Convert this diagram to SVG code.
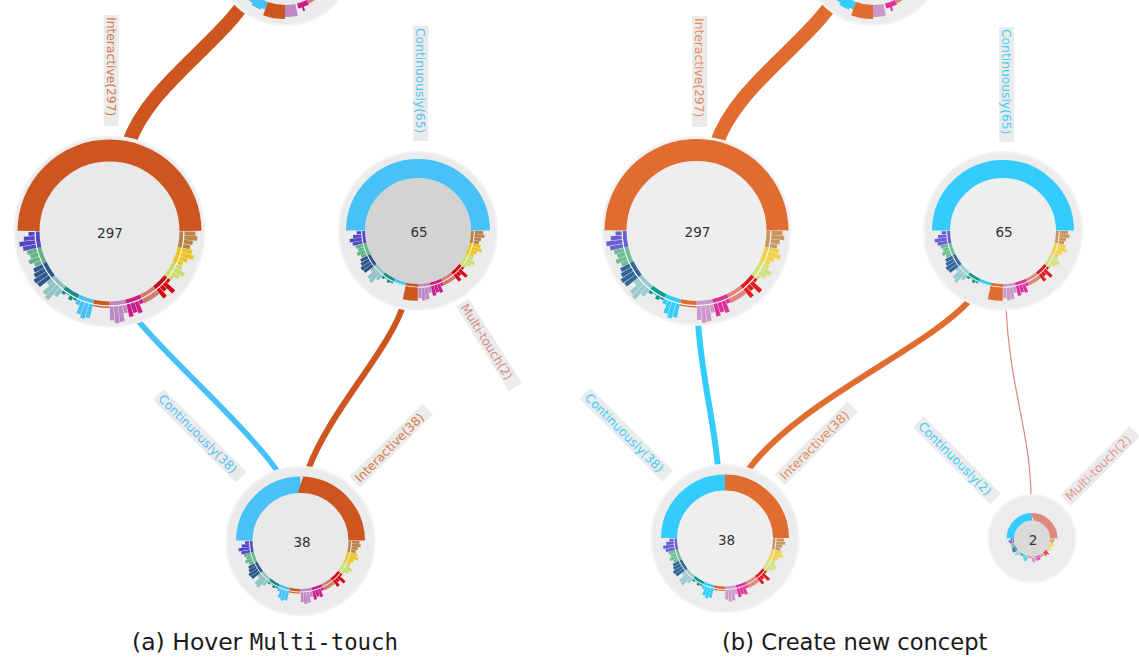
<svg xmlns="http://www.w3.org/2000/svg" xmlns:xlink="http://www.w3.org/1999/xlink" width="1139" height="659" viewBox="0 0 1139 659">
<style>
text{font-family:"DejaVu Sans",Verdana,sans-serif}
.lbl{font-size:12.3px}
.num{font-size:13.5px;fill:#333;text-anchor:middle;dominant-baseline:central}
.lbg{fill:#ebebeb}
.cap{fill:#1a1a1a}
.mono{font-family:"DejaVu Sans Mono","Liberation Mono",monospace}
.bgA{fill:#ebebeb;stroke:#f2f2f2;stroke-width:2}
.bgB{fill:#ececec;stroke:#f3f3f3;stroke-width:2}
.arc{fill:none}
.tr circle{fill:none}
.rg circle{fill:none;stroke-dasharray:2.9 400}
.rg .seg{stroke-dasharray:12.857 400}
.rg .wl{stroke:#fff;stroke-dasharray:180 400;opacity:.8}
.k0{stroke:var(--k0)}.k1{stroke:var(--k1)}.k2{stroke:var(--k2)}.k3{stroke:var(--k3)}.k4{stroke:var(--k4)}.k5{stroke:var(--k5)}.k6{stroke:var(--k6)}
.k7{stroke:var(--k7)}.k8{stroke:var(--k8)}.k9{stroke:var(--k9)}.k10{stroke:var(--k10)}.k11{stroke:var(--k11)}.k12{stroke:var(--k12)}.k13{stroke:var(--k13)}
.pa{--k0:#b9834a;--k1:#ecc61e;--k2:#cbdc6c;--k3:#d00712;--k4:#d27a6e;--k5:#c91d8a;--k6:#bf88c4;--k7:#cc5520;--k8:#47c1f8;--k9:#178c82;--k10:#8ec3c3;--k11:#2d568a;--k12:#64b487;--k13:#5548c6}
.pb{--k0:#c9955f;--k1:#f1d14a;--k2:#d3e07c;--k3:#e01b1f;--k4:#e0877d;--k5:#dd3399;--k6:#cc99cc;--k7:#e06c30;--k8:#33ccff;--k9:#0f998a;--k10:#99cccc;--k11:#336699;--k12:#6fbf95;--k13:#6a5fd2}
</style>
<defs>
<g id="ring" class="rg">
<circle class="seg k0" r="72" stroke-width="4" pathLength="360" stroke-dashoffset="0"/>
<circle class="seg k1" r="72" stroke-width="4" pathLength="360" stroke-dashoffset="-12.857"/>
<circle class="seg k2" r="72" stroke-width="4" pathLength="360" stroke-dashoffset="-25.714"/>
<circle class="seg k3" r="72" stroke-width="4" pathLength="360" stroke-dashoffset="-38.571"/>
<circle class="seg k4" r="72" stroke-width="4" pathLength="360" stroke-dashoffset="-51.429"/>
<circle class="seg k5" r="72" stroke-width="4" pathLength="360" stroke-dashoffset="-64.286"/>
<circle class="seg k6" r="72" stroke-width="4" pathLength="360" stroke-dashoffset="-77.143"/>
<circle class="seg k7" r="72" stroke-width="4" pathLength="360" stroke-dashoffset="-90"/>
<circle class="seg k8" r="72" stroke-width="4" pathLength="360" stroke-dashoffset="-102.857"/>
<circle class="seg k9" r="72" stroke-width="4" pathLength="360" stroke-dashoffset="-115.714"/>
<circle class="seg k10" r="72" stroke-width="4" pathLength="360" stroke-dashoffset="-128.571"/>
<circle class="seg k11" r="72" stroke-width="4" pathLength="360" stroke-dashoffset="-141.429"/>
<circle class="seg k12" r="72" stroke-width="4" pathLength="360" stroke-dashoffset="-154.286"/>
<circle class="seg k13" r="72" stroke-width="4" pathLength="360" stroke-dashoffset="-167.143"/>
<circle class="wl" r="74.5" stroke-width="1" pathLength="360"/>
<circle class="k0" r="80.5" stroke-width="11" pathLength="360" stroke-dashoffset="0"/>
<circle class="k0" r="81.5" stroke-width="13" pathLength="360" stroke-dashoffset="-3.214"/>
<circle class="k0" r="79.5" stroke-width="9" pathLength="360" stroke-dashoffset="-6.429"/>
<circle class="k0" r="78.5" stroke-width="7" pathLength="360" stroke-dashoffset="-9.643"/>
<circle class="k1" r="80" stroke-width="10" pathLength="360" stroke-dashoffset="-12.857"/>
<circle class="k1" r="81.5" stroke-width="13" pathLength="360" stroke-dashoffset="-16.071"/>
<circle class="k1" r="79" stroke-width="8" pathLength="360" stroke-dashoffset="-19.286"/>
<circle class="k1" r="77.5" stroke-width="5" pathLength="360" stroke-dashoffset="-22.5"/>
<circle class="k2" r="78" stroke-width="6" pathLength="360" stroke-dashoffset="-25.714"/>
<circle class="k2" r="80.5" stroke-width="11" pathLength="360" stroke-dashoffset="-28.929"/>
<circle class="k2" r="79" stroke-width="8" pathLength="360" stroke-dashoffset="-32.143"/>
<circle class="k2" r="77" stroke-width="4" pathLength="360" stroke-dashoffset="-35.357"/>
<circle class="k3" r="76.5" stroke-width="3" pathLength="360" stroke-dashoffset="-38.571"/>
<circle class="k3" r="81.5" stroke-width="13" pathLength="360" stroke-dashoffset="-41.786"/>
<circle class="k3" r="78" stroke-width="6" pathLength="360" stroke-dashoffset="-45"/>
<circle class="k3" r="80.5" stroke-width="11" pathLength="360" stroke-dashoffset="-48.214"/>
<circle class="seg k4" r="77.5" stroke-width="5" pathLength="360" stroke-dashoffset="-51.429"/>
<circle class="k5" r="77" stroke-width="4" pathLength="360" stroke-dashoffset="-64.286"/>
<circle class="k5" r="81" stroke-width="12" pathLength="360" stroke-dashoffset="-67.5"/>
<circle class="k5" r="80" stroke-width="10" pathLength="360" stroke-dashoffset="-70.714"/>
<circle class="k5" r="81.5" stroke-width="13" pathLength="360" stroke-dashoffset="-73.929"/>
<circle class="k6" r="79" stroke-width="8" pathLength="360" stroke-dashoffset="-77.143"/>
<circle class="k6" r="83" stroke-width="16" pathLength="360" stroke-dashoffset="-80.357"/>
<circle class="k6" r="83.5" stroke-width="17" pathLength="360" stroke-dashoffset="-83.571"/>
<circle class="k6" r="82" stroke-width="14" pathLength="360" stroke-dashoffset="-86.786"/>
<circle class="seg k7" r="75.75" stroke-width="1.5" pathLength="360" stroke-dashoffset="-90"/>
<circle class="k8" r="82" stroke-width="14" pathLength="360" stroke-dashoffset="-102.857"/>
<circle class="k8" r="83" stroke-width="16" pathLength="360" stroke-dashoffset="-106.071"/>
<circle class="k8" r="81.5" stroke-width="13" pathLength="360" stroke-dashoffset="-109.286"/>
<circle class="k8" r="77.5" stroke-width="5" pathLength="360" stroke-dashoffset="-112.5"/>
<circle class="k9" r="76" stroke-width="2" pathLength="360" stroke-dashoffset="-115.714"/>
<circle class="k9" r="77" stroke-width="4" pathLength="360" stroke-dashoffset="-118.929"/>
<circle class="k9" r="75.5" stroke-width="1" pathLength="360" stroke-dashoffset="-122.143"/>
<circle class="k9" r="76.5" stroke-width="3" pathLength="360" stroke-dashoffset="-125.357"/>
<circle class="k10" r="79.5" stroke-width="9" pathLength="360" stroke-dashoffset="-128.571"/>
<circle class="k10" r="83.5" stroke-width="17" pathLength="360" stroke-dashoffset="-131.786"/>
<circle class="k10" r="82.5" stroke-width="15" pathLength="360" stroke-dashoffset="-135"/>
<circle class="k10" r="78" stroke-width="6" pathLength="360" stroke-dashoffset="-138.214"/>
<circle class="k11" r="82" stroke-width="14" pathLength="360" stroke-dashoffset="-141.429"/>
<circle class="k11" r="82.5" stroke-width="15" pathLength="360" stroke-dashoffset="-144.643"/>
<circle class="k11" r="81" stroke-width="12" pathLength="360" stroke-dashoffset="-147.857"/>
<circle class="k11" r="80" stroke-width="10" pathLength="360" stroke-dashoffset="-151.071"/>
<circle class="k12" r="78.5" stroke-width="7" pathLength="360" stroke-dashoffset="-154.286"/>
<circle class="k12" r="80.5" stroke-width="11" pathLength="360" stroke-dashoffset="-157.5"/>
<circle class="k12" r="79" stroke-width="8" pathLength="360" stroke-dashoffset="-160.714"/>
<circle class="k12" r="80" stroke-width="10" pathLength="360" stroke-dashoffset="-163.929"/>
<circle class="k13" r="81.5" stroke-width="13" pathLength="360" stroke-dashoffset="-167.143"/>
<circle class="k13" r="83" stroke-width="16" pathLength="360" stroke-dashoffset="-170.357"/>
<circle class="k13" r="80.5" stroke-width="11" pathLength="360" stroke-dashoffset="-173.571"/>
<circle class="k13" r="78" stroke-width="6" pathLength="360" stroke-dashoffset="-176.786"/>
</g>
<g id="topring" class="tr">
<circle class="k9" r="52" stroke-width="4" pathLength="360" stroke-dasharray="8 400" stroke-dashoffset="-132"/>
<circle class="k8" r="54" stroke-width="8" pathLength="360" stroke-dasharray="22 400" stroke-dashoffset="-110"/>
<circle class="k8" r="55" stroke-width="10" pathLength="360" stroke-dasharray="10 400" stroke-dashoffset="-114"/>
<circle class="k7" r="57" stroke-width="14" pathLength="360" stroke-dasharray="20 400" stroke-dashoffset="-90"/>
<circle class="k6" r="56" stroke-width="12" pathLength="360" stroke-dasharray="12 400" stroke-dashoffset="-78"/>
<circle class="k5" r="52.5" stroke-width="5" pathLength="360" stroke-dasharray="12 400" stroke-dashoffset="-64"/>
<circle class="k5" r="55" stroke-width="8" pathLength="360" stroke-dasharray="2 400" stroke-dashoffset="-70"/>
<circle class="k4" r="52" stroke-width="4" pathLength="360" stroke-dasharray="12 400" stroke-dashoffset="-52"/>
</g>
</defs>

<g id="links" fill="none">
<path d="M 258 -20 C 230 40, 150 80, 128 145" stroke="#cc5520" stroke-width="14"/>
<path d="M 136 318 C 160 350, 250 430, 278 472" stroke="#47c1f8" stroke-width="5.5"/>
<path d="M 404 303 C 390 350, 330 410, 308 470" stroke="#cc5520" stroke-width="6"/>
<path d="M 846 -20 C 818 40, 738 80, 716 145" stroke="#e06c30" stroke-width="14"/>
<path d="M 698 322 C 702 380, 714 420, 718 468" stroke="#33ccff" stroke-width="6"/>
<path d="M 970 300 C 925 350, 800 400, 748 470" stroke="#e06c30" stroke-width="6"/>
<path d="M 1006 308 C 1010 390, 1030 430, 1031 496" stroke="#e0887c" stroke-width="1.2"/>
</g>

<g id="node-top-a" transform="translate(285 -45)">
<circle r="70" class="bgA"/>
<circle r="50" fill="#e9e9e9"/>
<use xlink:href="#topring" class="pa"/>
</g>
<g id="node-297-a" transform="translate(109.5 231.5)">
<circle r="95" class="bgA"/>
<circle r="70" fill="#e9e9e9"/>
<circle class="arc" r="81" stroke="#cc5520" stroke-width="22" pathLength="360" stroke-dasharray="179 400" stroke-dashoffset="-180.5"/>
<use xlink:href="#ring" class="pa"/>
<text class="num" x="0.5" y="1">297</text>
</g>
<g id="node-65-a" transform="translate(418 231)">
<circle r="79" class="bgA"/>
<circle r="53" fill="#d3d3d3"/>
<circle class="arc" r="62.5" stroke="#47c1f8" stroke-width="19" pathLength="360" stroke-dasharray="179 400" stroke-dashoffset="-180.5"/>
<use xlink:href="#ring" class="pa" transform="scale(0.757)"/>
<circle class="arc" r="63.5" stroke="#ebebeb" stroke-width="13.4" pathLength="360" stroke-dasharray="12.8 400" stroke-dashoffset="-102.9"/>
<circle class="arc" r="63.3" stroke="#cc5520" stroke-width="13" pathLength="360" stroke-dasharray="12.4 400" stroke-dashoffset="-90.2"/>
<text class="num" x="1" y="1">65</text>
</g>
<g id="node-38-a" transform="translate(300.5 541)">
<circle r="74" class="bgA"/>
<circle r="48" fill="#e9e9e9"/>
<circle class="arc" r="56.25" stroke="#47c1f8" stroke-width="16.5" pathLength="360" stroke-dasharray="89.5 400" stroke-dashoffset="-180.5"/>
<circle class="arc" r="56.25" stroke="#cc5520" stroke-width="16.5" pathLength="360" stroke-dasharray="89.5 400" stroke-dashoffset="-270"/>
<use xlink:href="#ring" class="pa" transform="scale(0.686)"/>
<text class="num" x="1.5" y="1">38</text>
</g>

<g id="node-top-b" transform="translate(873 -45)">
<circle r="70" class="bgB"/>
<circle r="50" fill="#eeeeee"/>
<use xlink:href="#topring" class="pb"/>
</g>
<g id="node-297-b" transform="translate(696.5 231)">
<circle r="94" class="bgB"/>
<circle r="70" fill="#eeeeee"/>
<circle class="arc" r="81" stroke="#e06c30" stroke-width="22" pathLength="360" stroke-dasharray="179 400" stroke-dashoffset="-180.5"/>
<use xlink:href="#ring" class="pb"/>
<text class="num" x="1" y="1">297</text>
</g>
<g id="node-65-b" transform="translate(1003 231)">
<circle r="79" class="bgB"/>
<circle r="53" fill="#eeeeee"/>
<circle class="arc" r="62" stroke="#33ccff" stroke-width="18" pathLength="360" stroke-dasharray="179 400" stroke-dashoffset="-180.5"/>
<use xlink:href="#ring" class="pb" transform="scale(0.757)"/>
<circle class="arc" r="63.5" stroke="#ececec" stroke-width="13.4" pathLength="360" stroke-dasharray="12.8 400" stroke-dashoffset="-102.9"/>
<circle class="arc" r="63.3" stroke="#e06c30" stroke-width="13" pathLength="360" stroke-dasharray="12.4 400" stroke-dashoffset="-90.2"/>
<text class="num" x="1" y="1">65</text>
</g>
<g id="node-38-b" transform="translate(725 538.5)">
<circle r="73.5" class="bgB"/>
<circle r="48" fill="#eeeeee"/>
<circle class="arc" r="56" stroke="#33ccff" stroke-width="16" pathLength="360" stroke-dasharray="89.5 400" stroke-dashoffset="-180.5"/>
<circle class="arc" r="56" stroke="#e06c30" stroke-width="16" pathLength="360" stroke-dasharray="89.5 400" stroke-dashoffset="-270"/>
<use xlink:href="#ring" class="pb" transform="scale(0.686)"/>
<text class="num" x="1.5" y="1">38</text>
</g>
<g id="node-2-b" transform="translate(1032 538.5)">
<circle r="43.5" class="bgB"/>
<circle r="18" fill="#d9d9d9"/>
<circle class="arc" r="21.75" stroke="#33ccff" stroke-width="7.5" pathLength="360" stroke-dasharray="89.5 400" stroke-dashoffset="-180.5"/>
<circle class="arc" r="21.75" stroke="#e0887c" stroke-width="7.5" pathLength="360" stroke-dasharray="89.5 400" stroke-dashoffset="-270"/>
<use xlink:href="#ring" class="pb" transform="scale(0.26)"/>
<text class="num" x="1" y="1">2</text>
</g>

<g id="labels">
<g transform="translate(111.2 16) rotate(90)"><rect class="lbg" x="-1" y="-7.5" width="111" height="15"/><text class="lbl" x="1" y="4.4" fill="#d77a48">Interactive(297)</text></g>
<g transform="translate(420.8 27) rotate(90)"><rect class="lbg" x="-1" y="-7.5" width="115" height="15"/><text class="lbl" x="1" y="4.4" fill="#55c4f5">Continuously(65)</text></g>
<g transform="translate(464 305) rotate(58)"><rect class="lbg" x="-3" y="-7.5" width="100" height="15"/><text class="lbl" x="0" y="4.4" fill="#cf8f86">Multi-touch(2)</text></g>
<g transform="translate(160.5 396.5) rotate(45)"><rect class="lbg" x="-3" y="-7.5" width="117" height="15"/><text class="lbl" x="0" y="4.4" fill="#55c4f5">Continuously(38)</text></g>
<g transform="translate(357 480) rotate(-45)"><rect class="lbg" x="-3" y="-7.5" width="103" height="15"/><text class="lbl" x="0" y="4.4" fill="#d77a48">Interactive(38)</text></g>
<g transform="translate(699.7 17) rotate(90)"><rect class="lbg" x="-1" y="-7.5" width="111" height="15"/><text class="lbl" x="1" y="4.4" fill="#e68a5c">Interactive(297)</text></g>
<g transform="translate(1006.7 28) rotate(90)"><rect class="lbg" x="-1" y="-7.5" width="115" height="15"/><text class="lbl" x="1" y="4.4" fill="#45cdf8">Continuously(65)</text></g>
<g transform="translate(587 395.5) rotate(45)"><rect class="lbg" x="-3" y="-7.5" width="117" height="15"/><text class="lbl" x="0" y="4.4" fill="#45cdf8">Continuously(38)</text></g>
<g transform="translate(782 477.5) rotate(-45)"><rect class="lbg" x="-3" y="-7.5" width="103" height="15"/><text class="lbl" x="0" y="4.4" fill="#e68a5c">Interactive(38)</text></g>
<g transform="translate(920.5 424) rotate(45)"><rect class="lbg" x="-3" y="-7.5" width="109" height="15"/><text class="lbl" x="0" y="4.4" fill="#45cdf8">Continuously(2)</text></g>
<g transform="translate(1067.5 498.5) rotate(-45)"><rect class="lbg" x="-3" y="-7.5" width="98" height="15"/><text class="lbl" x="0" y="4.4" fill="#e29a90">Multi-touch(2)</text></g>
</g>

<g id="captions">
<text class="cap" x="132" y="650" font-size="23.5">(a) Hover <tspan class="mono" font-size="22.4">Multi-touch</tspan></text>
<text class="cap" x="722" y="650" font-size="22.6">(b) Create new concept</text>
</g>
</svg>
